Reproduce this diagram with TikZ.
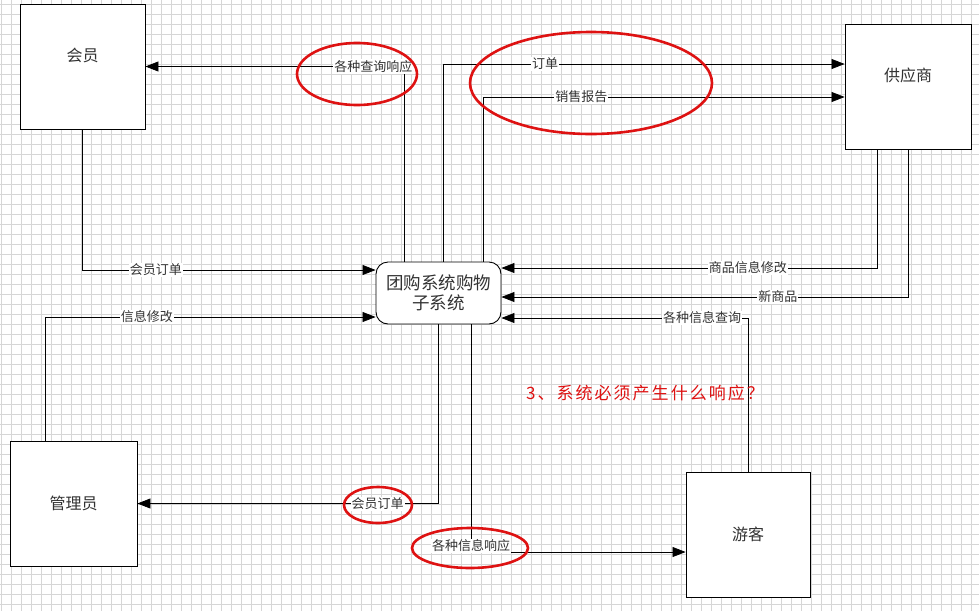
\documentclass[tikz,border=0pt]{standalone}
\usepackage{fontspec}
\setmainfont{Noto Sans CJK SC}
\newfontfamily\askfont[LetterSpace=12]{Noto Sans CJK SC}
\usepackage{xcolor}
\usetikzlibrary{positioning, arrows.meta}
\definecolor{penred}{RGB}{222,18,18}
\definecolor{gridgray}{RGB}{214,214,214}
\definecolor{inkgray}{RGB}{50,50,50}

\begin{document}
\begin{tikzpicture}[x=1pt, y=-1pt,
        entity/.style={draw, line width=0.9pt, fill=white, minimum height=125pt, inner sep=0pt,
            font=\fontsize{16}{18}\selectfont, text=inkgray},
        proc/.style={draw, line width=0.9pt, fill=white, rounded corners=12pt, minimum width=125pt,
            minimum height=62pt, align=center, font=\fontsize{17.5}{20}\selectfont, text=inkgray},
        flow/.style={line width=0.7pt, -{Triangle[length=13pt, width=10pt]}},
        lbl/.style={fill=white, inner sep=1pt, font=\fontsize{13}{13}\selectfont, text=inkgray},
        redring/.style={penred, line width=2.6pt}]
            \useasboundingbox (0,0) rectangle (979,611);
            \fill[white] (0,0) rectangle (979,611);
            \foreach \gx in {1,11,...,971}
                \draw[gridgray, line width=0.5pt] (\gx,0) -- (\gx,611);
            \foreach \gy in {4,14,...,604}
                \draw[gridgray, line width=0.5pt] (0,\gy) -- (979,\gy);

            \node[entity, minimum width=125pt, label={[yshift=11pt, text=inkgray, font=\fontsize{16}{18}\selectfont]center:会员}] (M) at (82.5,66.5) {};
            \node[entity, minimum width=126pt, label={[yshift=11pt, text=inkgray, font=\fontsize{16}{18}\selectfont]center:供应商}] (S) at (908,86.5) {};
            \node[entity, minimum width=127pt] (A) at (73.5,503.5) {管理员};
            \node[entity, minimum width=124pt] (V) at (748,534.5) {游客};
            \node[proc] (C) at (438.5,293) {团购系统购物\\子系统};

            \draw[flow] ([xshift=-34.5pt]C.north) |- node[lbl, pos=0.559] (q1) {各种查询响应} (M.east);
            \draw[flow] ([xshift=4.5pt]C.north) |- node[lbl, pos=0.627] (q2) {订单} ([yshift=22.5pt]S.west);
            \draw[flow] ([xshift=44.5pt]C.north) |- node[lbl, pos=0.636] (q3) {销售报告} ([yshift=-10.5pt]S.west);
            \draw[flow] (M.south) |- node[lbl, pos=0.625] (q4) {会员订单} ([yshift=23pt]C.west);
            \draw[flow] ([xshift=-28.5pt]A.north) |- node[lbl, pos=0.654] (q5) {信息修改} ([yshift=-24pt]C.west);
            \draw[flow] ([xshift=-31pt]S.south) |- node[lbl, pos=0.672] (q6) {商品信息修改} ([yshift=25pt]C.east);
            \draw[flow] (S.south) |- node[lbl, pos=0.66] (q7) {新商品} ([yshift=-4pt]C.east);
            \draw[flow] (V.north) |- node[lbl, pos=0.593] (q8) {各种信息查询} ([yshift=-25pt]C.east);
            \draw[flow] (C.south) |- node[lbl, pos=0.601] (q9) {会员订单} (A.east);
            \draw[flow] ([xshift=32.5pt]C.south) |- node[lbl, pos=0.5, yshift=6pt] (q10) {各种信息响应} ([yshift=-17.5pt]V.west);

            \draw[redring] (357,74) ellipse [x radius=60pt, y radius=31pt];
            \draw[redring] (591,83) ellipse [x radius=121pt, y radius=51pt];
            \draw[redring] (378,505) ellipse [x radius=34pt, y radius=18pt];
            \draw[redring] (470,548) ellipse [x radius=58pt, y radius=20pt];

            \node[text=penred, font=\askfont\fontsize{17}{17}\selectfont] (ask) at (645,393) {3、系统必须产生什么响应？};
        \end{tikzpicture}
\end{document}
